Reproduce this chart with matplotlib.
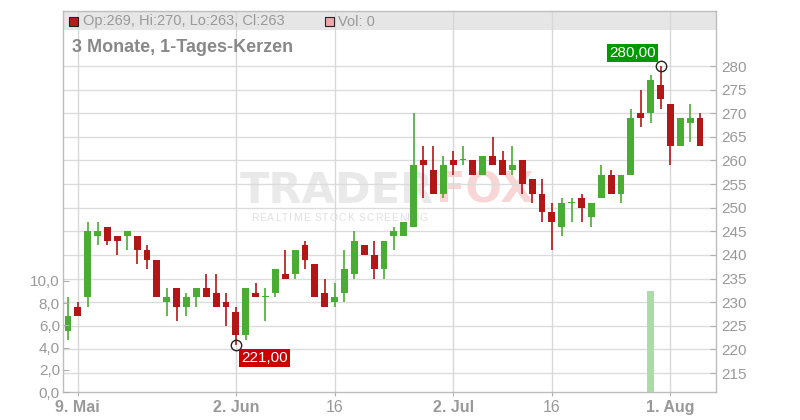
import numpy as np
import pandas as pd
import matplotlib
matplotlib.use("Agg")
import matplotlib.pyplot as plt
from matplotlib.patches import Rectangle

plt.rcParams['font.family'] = ['Liberation Sans', 'DejaVu Sans']

# ---------------- data ----------------
dates = pd.bdate_range('2025-05-08', '2025-08-06')
opens = [224, 229, 231, 244, 246, 244, 244, 244, 241, 239,
         230, 233, 229, 231, 233, 232, 230, 228, 223, 232,
         231, 232, 236, 236, 242, 238, 232, 230, 232, 236,
         242, 240, 237, 244, 244, 246, 260, 258, 253, 260,
         260, 260, 257, 261, 260, 258, 260, 256, 253, 249,
         246, 251, 252, 248, 252, 257, 253, 257, 270, 270,
         276, 272, 263, 268, 269]
highs = [231, 230, 247, 247, 246, 244, 245, 244, 242, 239,
         233, 233, 232, 233, 236, 236, 232, 229, 233, 234,
         233, 237, 241, 241, 243, 238, 235, 234, 241, 245,
         242, 243, 243, 246, 247, 270, 263, 263, 261, 262,
         263, 260, 261, 265, 262, 263, 260, 256, 256, 251,
         252, 252, 253, 251, 259, 258, 257, 271, 275, 278,
         280, 272, 269, 272, 270]
lows = [222, 227, 229, 242, 242, 240, 241, 238, 237, 231,
        227, 226, 227, 229, 231, 229, 225, 221, 222, 231,
        226, 231, 235, 235, 237, 231, 229, 229, 230, 235,
        240, 235, 235, 241, 244, 246, 252, 253, 252, 257,
        259, 257, 257, 259, 257, 257, 253, 251, 247, 241,
        244, 247, 247, 246, 252, 253, 251, 257, 267, 268,
        271, 259, 263, 264, 263]
closes = [227, 227, 245, 245, 243, 243, 245, 241, 239, 231,
          231, 229, 231, 233, 231, 229, 229, 223, 233, 231,
          231, 237, 235, 241, 239, 231, 229, 231, 237, 243,
          240, 237, 243, 245, 247, 259, 259, 253, 259, 259,
          260, 257, 261, 259, 257, 259, 255, 253, 249, 247,
          251, 251, 250, 251, 257, 253, 257, 269, 269, 277,
          273, 263, 269, 269, 263]
volumes = [0] * 59 + [9.1] + [0] * 5

tick_dates = ['2025-05-09', '2025-06-02', '2025-06-16', '2025-07-02', '2025-07-16', '2025-08-01']
tick_labels = ['9. Mai', '2. Jun', '16', '2. Jul', '16', '1. Aug']
tick_bold = [True, True, False, True, False, True]
price_ticks = list(range(215, 281, 5))
vol_ticks = [0, 2, 4, 6, 8, 10]

# ---------------- figure ----------------
W, H = 800, 420
fig = plt.figure(figsize=(W / 100, H / 100), dpi=100)
fig.patch.set_facecolor('white')
L, R, B, T = 63, 716, 392, 11
ax = fig.add_axes([L / W, 1 - B / H, (R - L) / W, (B - T) / H])
axv = ax.twinx()
ax.yaxis.tick_right()
axv.yaxis.tick_left()

x = np.arange(len(dates))
o = np.array(opens, float); h = np.array(highs, float)
l = np.array(lows, float); c = np.array(closes, float)
up = c >= o
GREEN = '#4aad33'
RED = '#b31616'
cols = np.where(up, GREEN, RED)

ax.set_xlim(-0.506, 65.62)
ax.set_ylim(210.98, 291.65)
axv.set_ylim(0, 381 / 11.1)

# header band
ax.add_patch(Rectangle((0, (B - 30) / (B - T)), 1, 1 - (B - 30) / (B - T),
                       transform=ax.transAxes, fc='#e6e6e6', ec='none', zorder=0.5))

# grid lines
for p in price_ticks:
    ax.axhline(p, color='#dcdcdc', lw=1, zorder=1)
tick_idx = [int(np.where(dates == pd.Timestamp(d))[0][0]) for d in tick_dates]
for ti in tick_idx:
    ax.axvline(ti, color='#d8d8d8', lw=1, zorder=1)

# watermark
renderer = fig.canvas.get_renderer()
t1 = ax.text(240 / W, 1 - 191 / H, 'TRADER', transform=fig.transFigure, fontsize=31,
             fontweight='bold', color='#e9e9e9', va='center', ha='left', zorder=0.8,
             family='DejaVu Sans')
tw = t1.get_window_extent(renderer=renderer).width
ax.text((240 + tw + 2) / W, 1 - 191 / H, 'FOX', transform=fig.transFigure, fontsize=31,
        fontweight='bold', color='#f9d6d6', va='center', ha='left', zorder=0.8,
        family='DejaVu Sans')
# letter-spaced subtitle
cx = 251.0
for ch in 'REALTIME STOCK SCREENING':
    tt = ax.text(cx / W, 1 - 218 / H, ch, transform=fig.transFigure,
                 fontsize=7.5, color='#e0e0e0', va='center', ha='left', zorder=0.8)
    wpx = tt.get_window_extent(renderer=renderer).width if ch != ' ' else 2.5
    cx += wpx + 1.0

# candles
ax.vlines(x, l, h, colors=cols, lw=1.2, zorder=2)
bottoms = np.minimum(o, c)
heights = np.maximum(np.abs(c - o), 0.25)
ax.bar(x, heights, bottom=bottoms, width=0.7, color=cols, edgecolor='none', zorder=3)

# volume
axv.bar(x, volumes, width=0.7, color='#abdca6', edgecolor='none', zorder=2)

# min / max markers
imin = int(np.argmin(l)); imax = int(np.argmax(h))
ax.plot([imin, imax], [l[imin], h[imax]], 'o', mfc='none', mec='#222222', ms=7.5, mew=1, zorder=5)
ax.annotate(f'{l[imin]:.2f}'.replace('.', ','), xy=(imin, l[imin]), xytext=(20.5, -9.5),
            textcoords='offset points', ha='center', va='center', color='white', fontsize=11,
            bbox=dict(boxstyle='square,pad=0.15', fc='#cc0000', ec='none'), zorder=6)
ax.annotate(f'{h[imax]:.2f}'.replace('.', ','), xy=(imax, h[imax]), xytext=(-20, 9.5),
            textcoords='offset points', ha='center', va='center', color='white', fontsize=11,
            bbox=dict(boxstyle='square,pad=0.15', fc='#009900', ec='none'), zorder=6)

# axes styling
GRAY = '#999999'
ax.set_yticks(price_ticks)
ax.set_yticklabels([str(p) for p in price_ticks])
ax.tick_params(axis='y', which='both', direction='in', length=4, color='#b0b0b0',
               labelcolor=GRAY, labelsize=11, pad=3.6, right=True, left=False)
ax.set_xticks(tick_idx)
ax.set_xticklabels(tick_labels)
ax.tick_params(axis='x', direction='out', length=3, color='#b0b0b0', labelcolor=GRAY,
               labelsize=11.5, pad=2.5)
for lab, b in zip(ax.get_xticklabels(), tick_bold):
    lab.set_fontweight('bold' if b else 'normal')

axv.set_yticks(vol_ticks)
axv.set_yticklabels([f'{v:.1f}'.replace('.', ',') for v in vol_ticks])
axv.tick_params(axis='y', direction='in', length=4, color='#b0b0b0', labelcolor=GRAY,
                labelsize=11, pad=2.2, left=True, right=False)

for s in ax.spines.values():
    s.set_color('#bdbdbd'); s.set_linewidth(1)
for s in axv.spines.values():
    s.set_visible(False)

# header texts
fig.add_artist(Rectangle((69 / W, 1 - 26 / H), 9 / W, 9 / H, transform=fig.transFigure,
                         fc='#b71c1c', ec='#222222', lw=0.8))
fig.text(83 / W, 1 - 21.5 / H, 'Op:269, Hi:270, Lo:263, Cl:263', fontsize=10.5,
         color=GRAY, va='center', ha='left')
fig.add_artist(Rectangle((325 / W, 1 - 26 / H), 9 / W, 9 / H, transform=fig.transFigure,
                         fc='#f0a8b0', ec='#222222', lw=0.8))
fig.text(338 / W, 1 - 21.5 / H, 'Vol: 0', fontsize=10.5, color=GRAY, va='center', ha='left')
fig.text(72 / W, 1 - 47.5 / H, '3 Monate, 1-Tages-Kerzen', fontsize=13, fontweight='bold',
         color='#888888', va='center', ha='left')

fig.savefig('out.png', dpi=100, facecolor='white')
